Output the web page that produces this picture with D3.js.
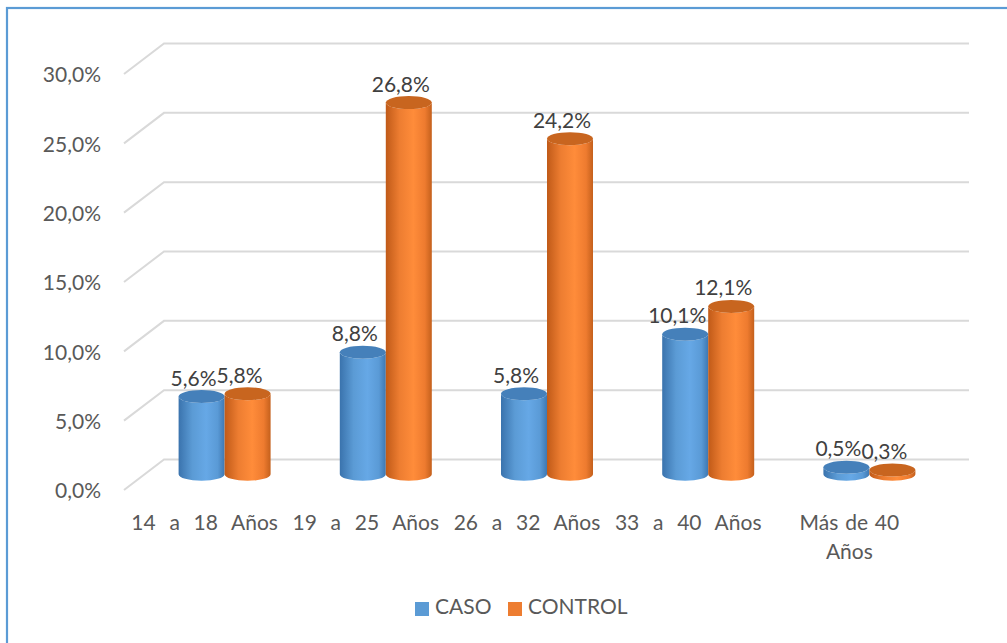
<!DOCTYPE html>
<html><head><meta charset="utf-8">
<script src="https://cdn.jsdelivr.net/npm/d3@7"></script>
<style>html,body{margin:0;padding:0;background:#fff;}svg{display:block;}</style>
</head><body>
<script>
const categories = [["14  a  18  Años"], ["19  a  25  Años"], ["26  a  32  Años"], ["33  a  40  Años"], ["Más de 40", "Años"]];
const seriesNames = ["CASO", "CONTROL"];
const caso = [5.6, 8.8, 5.8, 10.1, 0.5];
const control = [5.8, 26.8, 24.2, 12.1, 0.3];
const yTicks = [0, 5, 10, 15, 20, 25, 30];
const colors = ["#5b9bd5", "#ed7d31"];

const W = 1007, H = 643;
const svg = d3.select("body").append("svg").attr("width", W).attr("height", H);
const font = "Lato, 'Open Sans', sans-serif";
const fs = 21;

// frame
svg.append("rect").attr("x", 7).attr("y", 8).attr("width", 1200).attr("height", 900)
  .attr("fill", "#fff").attr("stroke", "#5b9bd5").attr("stroke-width", 2.2);

// 3D geometry
const dx = 40, dy = -30.5;
const x = d3.scaleBand().domain(d3.range(categories.length)).range([124, 930]).padding(0);
const y = d3.scaleLinear().domain([0, 30]).range([490, 74]);
const xs = d3.scaleBand().domain([0, 1]).range([-46, 46]);

const defs = svg.append("defs");
const grads = [
  ["#3a73ad", "#5b9bd5", "#66a8e6", "#5a9ad6", "#3e78b2"],
  ["#c05a18", "#ed7d31", "#ff8c3a", "#ee7b2f", "#c4601c"]
];
grads.forEach((g, i) => {
  const lg = defs.append("linearGradient").attr("id", "g" + i).attr("x1", "0").attr("x2", "1").attr("y1", "0").attr("y2", "0");
  [0, 0.3, 0.6, 0.85, 1].forEach((o, k) => lg.append("stop").attr("offset", o).attr("stop-color", g[k]));
});
const tops = ["#4580ba", "#c8651f"];

// gridlines
const grid = svg.append("g");
yTicks.forEach(t => {
  const yf = y(t);
  grid.append("path")
    .attr("d", `M${x.range()[0]},${yf} L${x.range()[0] + dx},${yf + dy} L969,${yf + dy}`)
    .attr("fill", "none").attr("stroke", "#d9d9d9").attr("stroke-width", 2);
});

// y labels
svg.append("g").selectAll("text").data(yTicks).join("text")
  .attr("x", 101).attr("y", d => y(d) + 3)
  .attr("text-anchor", "end").attr("dominant-baseline", "middle")
  .attr("font-family", font).attr("font-size", fs).attr("fill", "#595959")
  .text(d => d.toFixed(1).replace(".", ",") + "%");

// bars
const rx = 23, ry = 6.5;
const data = [];
categories.forEach((c, i) => {
  [caso, control].forEach((s, j) => data.push({ i, j, v: s[i] }));
});
const yMid = v => y(v) + dy / 2 - 0.5;
const bars = svg.append("g");
data.forEach(d => {
  const cx = x(d.i) + x.bandwidth() / 2 + dx / 2 + xs(d.j) + xs.bandwidth() / 2;
  const yb = yMid(0), yt = yMid(d.v);
  const l = cx - rx, r = cx + rx;
  bars.append("path")
    .attr("d", `M${l},${yt} L${l},${yb} A${rx},${ry} 0 0 0 ${r},${yb} L${r},${yt} A${rx},${ry} 0 0 1 ${l},${yt} Z`)
    .attr("fill", `url(#g${d.j})`);
  bars.append("ellipse").attr("cx", cx).attr("cy", yt).attr("rx", rx).attr("ry", ry)
    .attr("fill", tops[d.j]);
  d.cx = cx; d.yt = yt;
});

// data labels
svg.append("g").selectAll("text").data(data).join("text")
  .attr("x", d => d.cx - 8).attr("y", d => d.yt - 11)
  .attr("text-anchor", "middle")
  .attr("font-family", font).attr("font-size", fs).attr("fill", "#404040")
  .text(d => d.v.toFixed(1).replace(".", ",") + "%");

// category labels
const cat = svg.append("g");
categories.forEach((lines, i) => {
  const t = cat.append("text")
    .attr("x", x(i) + x.bandwidth() / 2).attr("y", 530)
    .attr("text-anchor", "middle").attr("font-family", font).attr("font-size", fs)
    .attr("fill", "#595959").attr("word-spacing", 1.5).style("white-space", "pre");
  lines.forEach((ln, k) => t.append("tspan").attr("x", x(i) + x.bandwidth() / 2).attr("dy", k ? 29 : 0).text(ln));
});

// legend
const legX = [415, 508];
const leg = svg.append("g");
seriesNames.forEach((n, j) => {
  leg.append("rect").attr("x", legX[j]).attr("y", 602).attr("width", 14).attr("height", 14).attr("fill", colors[j]);
  leg.append("text").attr("x", legX[j] + 20).attr("y", 609).attr("dominant-baseline", "middle")
    .attr("font-family", font).attr("font-size", fs).attr("fill", "#595959").text(n);
});
</script>
</body></html>
